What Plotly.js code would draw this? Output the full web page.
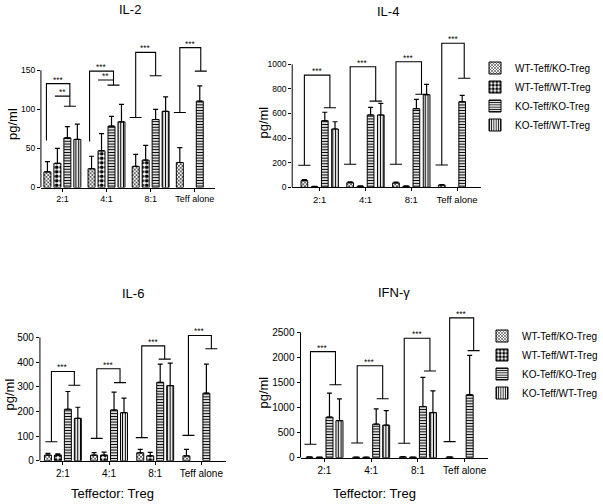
<!DOCTYPE html>
<html><head><meta charset="utf-8">
<script src="https://cdn.plot.ly/plotly-3.0.1.min.js"></script>
<style>html,body{margin:0;padding:0;background:#fff}#chart{width:603px;height:504px}</style>
</head><body><div id="chart"></div>
<script>
// ---------------- data ----------------
const groups = ['2:1', '4:1', '8:1', 'Teff alone'];
const seriesNames = ['WT-Teff/KO-Treg', 'WT-Teff/WT-Treg', 'KO-Teff/KO-Treg', 'KO-Teff/WT-Treg'];

// IL-2 (pg/ml): mean and +error per series, per group
const il2Means = [[20, 24, 27, 32], [31, 47, 35, null], [63.5, 78.5, 87, 110.5], [61.5, 84, 97.5, null]];
const il2Errs  = [[13, 16, 15.5, 19], [19, 22, 19, null], [14.5, 12.5, 13, 19.5], [19.5, 22.5, 18.5, null]];
// IL-4
const il4Means = [[55, 38, 36, 18], [5, 8, 8, null], [541, 588, 639, 696], [474, 588, 753, null]];
const il4Errs  = [[8, 6, 6, 4], [2, 3, 3, null], [69, 62, 76, 52], [59, 95, 84, null]];
// IL-6
const il6Means = [[23, 23, 32.5, 20], [23, 23, 20, null], [209, 206, 318, 274], [172, 195, 305, null]];
const il6Errs  = [[7, 10, 13.5, 26], [5, 12, 14, null], [72, 72, 74, 118], [45, 59, 91, null]];
// IFN-gamma
const ifnMeans = [[12, 10, 15, 12], [8, 8, 10, null], [808, 668, 1020, 1254], [740, 648, 900, null]];
const ifnErrs  = [[5, 4, 6, 5], [3, 3, 4, null], [480, 306, 580, 786], [434, 292, 434, null]];

// significance brackets: group, left bar slot, right bar slot, top, left base, right base, label
const il2BrGroup = [0, 0, 1, 1, 2, 3];
const il2BrLeft  = [-0.1, 0.75, -0.2, 0.65, 0, 0];
const il2BrRight = [2.25, 2.25, 2.2, 2.2, 2.0, 2.1];
const il2BrTop   = [133, 117, 149, 137.6, 173, 179];
const il2BrLBase = [60, null, 59, null, 89.5, 96];
const il2BrRBase = [104, null, 131, null, 143, 149];
const il2BrLCap  = [false, false, false, false, true, true];
const il2BrLabel = ['***', '**', '***', '**', '***', '***'];

const il4BrGroup = [0, 1, 2, 3];
const il4BrLeft  = [0, 0, 0, 0];
const il4BrRight = [2.5, 2.5, 2.5, 2.2];
const il4BrTop   = [912, 980, 1021, 1171];
const il4BrLBase = [179, 187, 187, 181];
const il4BrRBase = [647, 701, 756, 886];
const il4BrLCap  = [true, true, true, true];
const il4BrLabel = ['***', '***', '***', '***'];

const il6BrGroup = [0, 1, 2, 3];
const il6BrLeft  = [0.35, 0.27, 0.15, 0.2];
const il6BrRight = [2.65, 2.6, 2.45, 2.5];
const il6BrTop   = [362, 373, 466, 508];
const il6BrLBase = [77, 91, 94, 103];
const il6BrRBase = [306, 317, 412, 454];
const il6BrLCap  = [true, true, true, true];
const il6BrLabel = ['***', '***', '***', '***'];

const ifnBrGroup = [0, 1, 2, 3];
const ifnBrLeft  = [0.1, 0.1, 0.13, 0];
const ifnBrRight = [2.6, 2.65, 2.7, 2.4];
const ifnBrTop   = [2114, 1834, 2380, 2788];
const ifnBrLBase = [268, 294, 287, 320];
const ifnBrRBase = [1454, 1174, 1727, 2134];
const ifnBrLCap  = [true, true, true, true];
const ifnBrLabel = ['***', '***', '***', '***'];

const il2Ticks = [0, 50, 100, 150];
const il4Ticks = [0, 200, 400, 600, 800, 1000];
const il6Ticks = [0, 100, 200, 300, 400, 500];
const ifnTicks = [0, 500, 1000, 1500, 2000, 2500];

// ---------------- layout helpers ----------------
const W = 603, H = 504;
const FONT = 'Liberation Sans, Arial, Helvetica, sans-serif';
const INK = 'rgba(0,0,0,0.99)';

const patterns = [
  {shape: 'x', size: 2.6, solidity: 0.45, fgcolor: '#222', bgcolor: 'white'},
  {shape: '.', size: 4.5, solidity: 0.55, fgcolor: 'black', bgcolor: 'white'},
  {shape: '-', size: 2.8, solidity: 0.42, fgcolor: 'black', bgcolor: 'white'},
  {shape: '|', size: 2.8, solidity: 0.4, fgcolor: 'black', bgcolor: 'white'}
];

const panels = [
  {title: 'IL-2', means: il2Means, errs: il2Errs, ticks: il2Ticks,
   br: [il2BrGroup, il2BrLeft, il2BrRight, il2BrTop, il2BrLBase, il2BrRBase, il2BrLCap, il2BrLabel],
   left: 41, right: 215, bottom: 187.5, unit: 0.7813, yTop: 190, xr: [-0.486, 3.45],
   pitch: 0.226, bw: 0.158, xFont: 9, yFont: 8.5, legend: null,
   titlePos: [130, 9.5], ylabPos: [12, 124], xlabPos: null},
  {title: 'IL-4', means: il4Means, errs: il4Errs, ticks: il4Ticks,
   br: [il4BrGroup, il4BrLeft, il4BrRight, il4BrTop, il4BrLBase, il4BrRBase, il4BrLCap, il4BrLabel],
   left: 292.7, right: 481.7, bottom: 187.3, unit: 0.123, yTop: 1250, xr: [-0.6, 3.52],
   pitch: 0.223, bw: 0.146, xFont: 9.5, yFont: 8.5, legend: 'legend',
   titlePos: [389, 11], ylabPos: [263, 123], xlabPos: null},
  {title: 'IL-6', means: il6Means, errs: il6Errs, ticks: il6Ticks,
   br: [il6BrGroup, il6BrLeft, il6BrRight, il6BrTop, il6BrLBase, il6BrRBase, il6BrLCap, il6BrLabel],
   left: 40, right: 226.7, bottom: 460.8, unit: 0.2467, yTop: 560, xr: [-0.497, 3.54],
   pitch: 0.216, bw: 0.151, xFont: 10, yFont: 10, legend: null,
   titlePos: [133.3, 293.3], ylabPos: [10, 394.5], xlabPos: [112.5, 493.3]},
  {title: 'IFN-γ', means: ifnMeans, errs: ifnErrs, ticks: ifnTicks,
   br: [ifnBrGroup, ifnBrLeft, ifnBrRight, ifnBrTop, ifnBrLBase, ifnBrRBase, ifnBrLCap, ifnBrLabel],
   left: 301, right: 489.3, bottom: 457.7, unit: 0.05016, yTop: 3000, xr: [-0.513, 3.51],
   pitch: 0.214, bw: 0.15, xFont: 10, yFont: 10, legend: 'legend2',
   titlePos: [395, 292.5], ylabPos: [263, 393], xlabPos: [375, 493]}
];

const traces = [];
const shapes = [];
const annotations = [];
const layout = {
  width: W, height: H, margin: {l: 0, r: 0, t: 0, b: 0},
  paper_bgcolor: 'white', plot_bgcolor: 'rgba(0,0,0,0)',
  barmode: 'overlay', showlegend: true,
  font: {family: FONT, color: 'black'},
  legend: {x: 475 / W, xanchor: 'left', y: 1 - 53.5 / H, yanchor: 'top', bgcolor: 'rgba(0,0,0,0)',
           font: {size: 10, family: FONT, color: 'black'}, traceorder: 'normal', itemwidth: 30},
  legend2: {x: 483 / W, xanchor: 'left', y: 1 - 321.5 / H, yanchor: 'top', bgcolor: 'rgba(0,0,0,0)',
            font: {size: 10, family: FONT, color: 'black'}, traceorder: 'normal', itemwidth: 30}
};

const groupIdx = groups.map((g, i) => i);

panels.forEach((p, pi) => {
  const n = pi === 0 ? '' : String(pi + 1);
  const xa = 'x' + n, ya = 'y' + n;
  const topPx = p.bottom - p.yTop * p.unit;
  layout['xaxis' + n] = {
    domain: [p.left / W, p.right / W], range: p.xr, anchor: ya,
    showline: true, linecolor: 'black', linewidth: 1, mirror: false,
    ticks: 'outside', ticklen: 3, tickcolor: 'black', tickwidth: 1,
    tickvals: groupIdx, ticktext: groups, showgrid: false, zeroline: false,
    tickfont: {size: p.xFont, family: FONT, color: 'black'}, fixedrange: true
  };
  layout['yaxis' + n] = {
    domain: [1 - p.bottom / H, 1 - topPx / H], range: [0, p.yTop], anchor: xa,
    showline: false, ticks: 'outside', ticklen: 3, tickcolor: 'black', tickwidth: 1,
    tickvals: p.ticks, ticktext: p.ticks.map(String), showgrid: false, zeroline: false,
    tickfont: {size: p.yFont, family: FONT, color: 'black'}, fixedrange: true
  };
  // series bars
  for (let k = 0; k < 4; k++) {
    traces.push({
      type: 'bar', name: seriesNames[k], x: groupIdx, y: p.means[k],
      xaxis: xa, yaxis: ya,
      offset: (k - 1.5) * p.pitch - p.bw / 2, width: p.bw,
      marker: {color: 'white', line: {color: 'black', width: 1}, pattern: patterns[k]},
      error_y: {type: 'data', symmetric: false, array: p.errs[k],
                arrayminus: p.errs[k].map(v => v === null ? null : 0),
                color: 'black', thickness: 1.2, width: 2.5},
      showlegend: p.legend !== null, legend: p.legend || 'legend',
      hoverinfo: 'name+y'
    });
  }
  // y axis line up to last tick
  shapes.push({type: 'line', xref: xa + ' domain', yref: ya, x0: 0, x1: 0,
               y0: 0, y1: p.ticks[p.ticks.length - 1], line: {color: 'black', width: 1}});
  // significance brackets
  const [bg, bl, brr, bt, blb, brb, blc, blab] = p.br;
  const cap = 0.6 * p.pitch;
  for (let i = 0; i < bg.length; i++) {
    const xL = bg[i] + (bl[i] - 1.5) * p.pitch;
    const xR = bg[i] + (brr[i] - 1.5) * p.pitch;
    let path = blb[i] !== null ? `M${xL},${blb[i]} L${xL},${bt[i]}` : `M${xL},${bt[i]}`;
    path += ` L${xR},${bt[i]}`;
    if (brb[i] !== null) {
      path += ` L${xR},${brb[i]} M${xR - cap},${brb[i]} L${xR + cap},${brb[i]}`;
    }
    if (blc[i] && blb[i] !== null) {
      path += ` M${xL - cap},${blb[i]} L${xL + cap},${blb[i]}`;
    }
    shapes.push({type: 'path', xref: xa, yref: ya, path: path, line: {color: 'black', width: 1.1}});
    annotations.push({xref: xa, yref: ya, x: (xL + xR) / 2, y: bt[i], text: blab[i],
                      showarrow: false, yanchor: 'bottom', xanchor: 'center', yshift: -3,
                      height: 8, valign: 'bottom',
                      font: {size: 8.5, family: FONT, color: INK}});
  }
  // titles
  annotations.push({xref: 'paper', yref: 'paper', x: p.titlePos[0] / W, y: 1 - p.titlePos[1] / H,
                    text: p.title, showarrow: false, xanchor: 'center', yanchor: 'middle',
                    font: {size: 13, family: FONT, color: 'black'}});
  annotations.push({xref: 'paper', yref: 'paper', x: p.ylabPos[0] / W, y: 1 - p.ylabPos[1] / H,
                    text: 'pg/ml', textangle: -90, showarrow: false, xanchor: 'center', yanchor: 'middle',
                    font: {size: 13, family: FONT, color: 'black'}});
  if (p.xlabPos) {
    annotations.push({xref: 'paper', yref: 'paper', x: p.xlabPos[0] / W, y: 1 - p.xlabPos[1] / H,
                      text: 'Teffector: Treg', showarrow: false, xanchor: 'center', yanchor: 'middle',
                      font: {size: 13, family: FONT, color: 'black'}});
  }
});

layout.shapes = shapes;
layout.annotations = annotations;

Plotly.newPlot('chart', traces, layout, {displayModeBar: false, staticPlot: true});
</script>
</body></html>
